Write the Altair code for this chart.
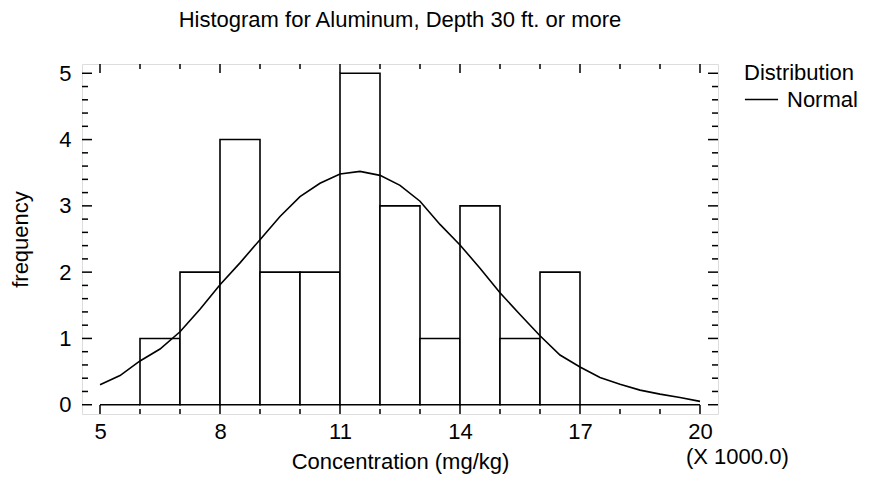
import altair as alt
import pandas as pd

# Histogram bins (concentration, x 1000 mg/kg) and frequencies
bin_start = [5, 6, 7, 8, 9, 10, 11, 12, 13, 14, 15, 16, 17, 18, 19]
bin_end = [6, 7, 8, 9, 10, 11, 12, 13, 14, 15, 16, 17, 18, 19, 20]
counts = [0, 1, 2, 4, 2, 2, 5, 3, 1, 3, 1, 2, 0, 0, 0]

# Fitted normal curve
curve_x = [5.0, 5.5, 6.0, 6.5, 7.0, 7.5, 8.0, 8.5, 9.0, 9.5, 10.0, 10.5, 11.0, 11.5,
           12.0, 12.5, 13.0, 13.5, 14.0, 14.5, 15.0, 15.5, 16.0, 16.5, 17.0, 17.5,
           18.0, 18.5, 19.0, 19.5, 20.0]
curve_y = [0.30, 0.44, 0.66, 0.84, 1.10, 1.44, 1.81, 2.14, 2.49, 2.84, 3.14, 3.34, 3.48, 3.52,
           3.46, 3.31, 3.07, 2.72, 2.41, 2.06, 1.69, 1.36, 1.04, 0.75, 0.57, 0.41,
           0.31, 0.22, 0.16, 0.11, 0.05]

x_major = [5, 8, 11, 14, 17, 20]
x_minor = [6, 7, 9, 10, 12, 13, 15, 16, 18, 19]
y_major = [0, 1, 2, 3, 4, 5]
y_minor = [0.2, 0.4, 0.6, 0.8, 1.2, 1.4, 1.6, 1.8, 2.2, 2.4, 2.6, 2.8,
           3.2, 3.4, 3.6, 3.8, 4.2, 4.4, 4.6, 4.8]

W, H = 636, 350
FONT = "Liberation Sans"
FS = 22

bars = pd.DataFrame({"start": bin_start, "end": bin_end, "count": counts})
curve = pd.DataFrame({"x": curve_x, "y": curve_y, "dist": ["Normal"] * len(curve_x)})

xs = alt.Scale(domain=[4.55, 20.45], nice=False, zero=False)
ys = alt.Scale(domain=[-0.14, 5.14], nice=False, zero=False)

bar_layer = alt.Chart(bars).mark_rect(fill="white", stroke="black", strokeWidth=1.6).encode(
    x=alt.X("start:Q", scale=xs,
            axis=alt.Axis(values=x_major, ticks=False, domain=False, grid=False,
                          labelFontSize=FS, labelFont=FONT, labelColor="black",
                          labelPadding=7, labelFlush=False, format="d",
                          title="Concentration (mg/kg)", titleFontSize=FS, titleFont=FONT,
                          titleFontWeight="normal", titleColor="black", titlePadding=9)),
    x2="end:Q",
    y=alt.Y("count:Q", scale=ys,
            axis=alt.Axis(values=y_major, ticks=False, domain=False, grid=False,
                          labelFontSize=FS, labelFont=FONT, labelColor="black",
                          labelPadding=11, labelFlush=False, format="d",
                          title="frequency", titleFontSize=FS, titleFont=FONT,
                          titleFontWeight="normal", titleColor="black", titlePadding=26)),
    y2=alt.Y2(datum=0),
)

line_layer = alt.Chart(curve).mark_line(strokeWidth=1.6).encode(
    x=alt.X("x:Q", scale=xs),
    y=alt.Y("y:Q", scale=ys),
    color=alt.Color("dist:N", scale=alt.Scale(range=["black"]),
                    legend=alt.Legend(title="Distribution", orient="none",
                                      legendX=662, legendY=-1,
                                      symbolType="stroke", symbolSize=1100,
                                      symbolStrokeWidth=1.6, labelOffset=8,
                                      titleFontSize=FS, titleFont=FONT,
                                      titleFontWeight="normal", titleColor="black",
                                      labelFontSize=FS, labelFont=FONT, labelColor="black",
                                      titlePadding=-3)),
)

def hticks(vals, length, top):
    df = pd.DataFrame({"v": vals})
    if top:
        return alt.Chart(df).mark_rule(color="black", strokeWidth=1.5).encode(
            x=alt.X("v:Q", scale=xs), y=alt.value(0), y2=alt.value(length))
    return alt.Chart(df).mark_rule(color="black", strokeWidth=1.5).encode(
        x=alt.X("v:Q", scale=xs), y=alt.value(H), y2=alt.value(H - length))

def vticks(vals, length, left):
    df = pd.DataFrame({"v": vals})
    if left:
        return alt.Chart(df).mark_rule(color="black", strokeWidth=1.5).encode(
            y=alt.Y("v:Q", scale=ys), x=alt.value(0), x2=alt.value(length))
    return alt.Chart(df).mark_rule(color="black", strokeWidth=1.5).encode(
        y=alt.Y("v:Q", scale=ys), x=alt.value(W), x2=alt.value(W - length))

ticks = [
    hticks(x_major, 9, False), hticks(x_minor, 5, False),
    hticks(x_major, 9, True), hticks(x_minor, 5, True),
    vticks(y_major, 10, True), vticks(y_minor, 6, True),
    vticks(y_major, 10, False), vticks(y_minor, 6, False),
]

scale_note = alt.Chart(pd.DataFrame({"t": ["(X 1000.0)"]})).mark_text(
    align="left", baseline="alphabetic", fontSize=FS, font=FONT, color="black"
).encode(text="t:N", x=alt.value(604), y=alt.value(400))

chart = alt.layer(bar_layer, line_layer, *ticks, scale_note).properties(
    width=W, height=H,
    title=alt.TitleParams("Histogram for Aluminum, Depth 30 ft. or more",
                          fontSize=FS, font=FONT, fontWeight="normal", color="black",
                          anchor="middle", offset=30),
    autosize=alt.AutoSizeParams(type="none"),
    padding={"left": 74, "top": 56, "right": 150, "bottom": 62},
).configure_view(stroke="black", strokeWidth=2).configure(background="white")

chart.save("out.html", embed_options={"renderer": "svg", "actions": False})
